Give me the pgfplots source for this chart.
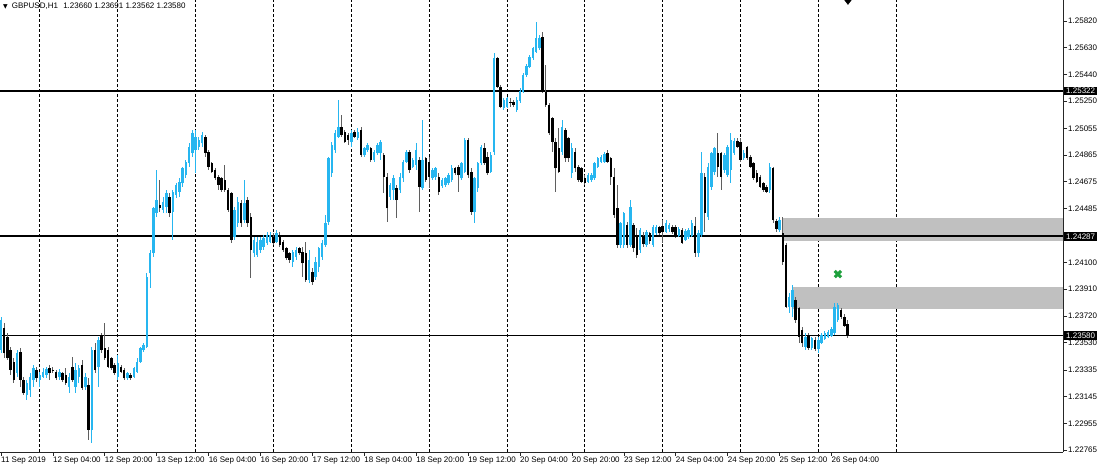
\documentclass[border=0pt]{standalone}
\usepackage{fontspec}
\setmainfont{Liberation Sans}
\newfontfamily\dejavu{DejaVu Sans}
\usepackage{pgfplots}
\usepackage{pgfplotstable}
\pgfplotsset{compat=1.18}

\definecolor{bullc}{RGB}{38,182,240}
\definecolor{bearw}{RGB}{95,95,95}
\definecolor{zonec}{RGB}{192,192,192}
\definecolor{greenmk}{RGB}{30,160,60}

% H1 candles, x = bar number (0 = 11 Sep 12:00)
\pgfplotstableread{
x o h l c
0 1.23478 1.23715 1.23454 1.23691
5 1.23312 1.23478 1.23288 1.23454
8 1.23157 1.23264 1.23122 1.23240
9 1.23193 1.23312 1.23145 1.23288
10 1.23264 1.23371 1.23217 1.23347
12 1.23264 1.23324 1.23217 1.23300
13 1.23288 1.23347 1.23276 1.23324
14 1.23300 1.23359 1.23276 1.23340
18 1.23288 1.23340 1.23264 1.23324
21 1.23217 1.23312 1.23169 1.23288
23 1.23217 1.23383 1.23169 1.23335
24 1.23288 1.23371 1.23240 1.23347
26 1.23217 1.23312 1.23193 1.23288
28 1.22908 1.23501 1.22813 1.23478
30 1.23359 1.23573 1.23217 1.23549
36 1.23288 1.23442 1.23264 1.23383
39 1.23276 1.23324 1.23264 1.23312
41 1.23288 1.23359 1.23276 1.23347
42 1.23324 1.23418 1.23312 1.23395
43 1.23395 1.23501 1.23383 1.23490
44 1.23478 1.23525 1.23466 1.23513
45 1.23501 1.24023 1.23490 1.24000
46 1.24023 1.24190 1.23917 1.24166
47 1.24166 1.24498 1.24142 1.24486
48 1.24451 1.24759 1.24427 1.24545
50 1.24474 1.24569 1.24451 1.24533
51 1.24498 1.24617 1.24451 1.24593
53 1.24462 1.24617 1.24261 1.24605
54 1.24581 1.24664 1.24557 1.24652
55 1.24605 1.24700 1.24569 1.24676
56 1.24664 1.24783 1.24640 1.24771
57 1.24723 1.24830 1.24700 1.24818
58 1.24807 1.24949 1.24783 1.24925
59 1.24878 1.25044 1.24854 1.25020
60 1.24901 1.25044 1.24735 1.24996
61 1.24925 1.24996 1.24901 1.24973
62 1.24949 1.25032 1.24925 1.25008
72 1.24284 1.24497 1.24260 1.24474
73 1.24379 1.24568 1.24355 1.24533
75 1.24402 1.24687 1.24379 1.24521
78 1.24165 1.24284 1.24141 1.24260
79 1.24153 1.24284 1.24141 1.24248
80 1.24189 1.24284 1.24165 1.24260
81 1.24212 1.24296 1.24189 1.24272
82 1.24236 1.24319 1.24224 1.24296
83 1.24248 1.24319 1.24236 1.24296
85 1.24248 1.24331 1.24236 1.24307
90 1.24106 1.24189 1.24070 1.24177
91 1.24141 1.24212 1.24118 1.24189
95 1.23975 1.24189 1.23951 1.24118
97 1.23999 1.24141 1.23975 1.24106
98 1.24070 1.24212 1.24035 1.24200
99 1.24141 1.24260 1.24118 1.24236
100 1.24224 1.24438 1.24212 1.24379
101 1.24391 1.24853 1.24367 1.24841
102 1.24735 1.24960 1.24711 1.24936
103 1.24901 1.25043 1.24877 1.25019
104 1.24996 1.25257 1.24984 1.25067
108 1.24960 1.25043 1.24924 1.25019
110 1.24984 1.25055 1.24972 1.25031
112 1.24865 1.24924 1.24853 1.24913
113 1.24901 1.24948 1.24889 1.24936
115 1.24829 1.24901 1.24817 1.24889
116 1.24877 1.24948 1.24865 1.24936
117 1.24877 1.24972 1.24829 1.24960
120 1.24568 1.24663 1.24545 1.24651
121 1.24616 1.24723 1.24545 1.24699
123 1.24616 1.24735 1.24592 1.24711
124 1.24699 1.24829 1.24675 1.24817
125 1.24817 1.24901 1.24806 1.24889
127 1.24782 1.24841 1.24770 1.24829
128 1.24794 1.24948 1.24758 1.24901
130 1.24628 1.25114 1.24616 1.24829
133 1.24699 1.24770 1.24687 1.24758
134 1.24711 1.24782 1.24687 1.24770
136 1.24648 1.24699 1.24628 1.24688
137 1.24652 1.24711 1.24640 1.24699
138 1.24664 1.24735 1.24652 1.24723
139 1.24688 1.24794 1.24676 1.24770
142 1.24699 1.24818 1.24688 1.24806
143 1.24747 1.24984 1.24735 1.24972
146 1.24462 1.24711 1.24379 1.24699
147 1.24628 1.24818 1.24604 1.24806
148 1.24806 1.24937 1.24794 1.24925
151 1.24747 1.24889 1.24735 1.24865
152 1.24889 1.25589 1.24865 1.25554
155 1.25198 1.25269 1.25186 1.25257
156 1.25209 1.25281 1.25198 1.25269
159 1.25186 1.25281 1.25174 1.25257
160 1.25250 1.25340 1.25233 1.25321
161 1.25316 1.25447 1.25304 1.25435
162 1.25435 1.25513 1.25423 1.25501
163 1.25494 1.25577 1.25482 1.25565
164 1.25558 1.25637 1.25542 1.25625
165 1.25601 1.25815 1.25589 1.25696
166 1.25625 1.25720 1.25613 1.25696
173 1.24889 1.25114 1.24865 1.25067
176 1.24735 1.24948 1.24699 1.24913
181 1.24676 1.24735 1.24664 1.24723
182 1.24688 1.24735 1.24676 1.24723
183 1.24699 1.24818 1.24688 1.24806
184 1.24783 1.24854 1.24770 1.24842
185 1.24818 1.24865 1.24806 1.24848
186 1.24818 1.24889 1.24806 1.24870
191 1.24225 1.24391 1.24201 1.24379
192 1.24225 1.24462 1.24201 1.24450
194 1.24225 1.24545 1.24213 1.24498
197 1.24189 1.24343 1.24165 1.24331
199 1.24225 1.24331 1.24213 1.24320
201 1.24225 1.24367 1.24213 1.24355
202 1.24308 1.24367 1.24296 1.24350
205 1.24320 1.24403 1.24308 1.24380
206 1.24337 1.24380 1.24320 1.24365
209 1.24290 1.24350 1.24280 1.24337
211 1.24261 1.24340 1.24250 1.24327
212 1.24280 1.24344 1.24270 1.24332
213 1.24290 1.24403 1.24280 1.24379
215 1.24166 1.24332 1.24142 1.24308
216 1.24297 1.24890 1.24285 1.24735
218 1.24427 1.24807 1.24403 1.24783
219 1.24640 1.24890 1.24617 1.24878
220 1.24747 1.24925 1.24723 1.24913
223 1.24759 1.24878 1.24735 1.24866
224 1.24723 1.24937 1.24712 1.24925
225 1.24759 1.25020 1.24664 1.24973
226 1.24878 1.24985 1.24866 1.24968
229 1.24842 1.24901 1.24830 1.24878
237 1.24617 1.24807 1.24593 1.24783
240 1.24332 1.24427 1.24320 1.24403
243 1.23786 1.23881 1.23739 1.23857
244 1.23786 1.23940 1.23715 1.23905
248 1.23501 1.23596 1.23478 1.23573
250 1.23490 1.23573 1.23478 1.23561
252 1.23484 1.23573 1.23454 1.23549
253 1.23530 1.23596 1.23520 1.23584
254 1.23555 1.23610 1.23545 1.23596
255 1.23573 1.23620 1.23560 1.23608
256 1.23578 1.23644 1.23570 1.23625
257 1.23596 1.23810 1.23584 1.23786
258 1.23691 1.23810 1.23680 1.23798
}\bulltable

\pgfplotstableread{
x o h l c
1 1.23632 1.23668 1.23418 1.23454
2 1.23573 1.23596 1.23406 1.23418
3 1.23478 1.23501 1.23300 1.23335
4 1.23395 1.23418 1.23240 1.23264
6 1.23466 1.23490 1.23217 1.23264
7 1.23264 1.23288 1.23157 1.23169
11 1.23335 1.23359 1.23252 1.23276
15 1.23347 1.23371 1.23264 1.23312
16 1.23335 1.23359 1.23312 1.23330
17 1.23324 1.23335 1.23264 1.23276
19 1.23312 1.23324 1.23252 1.23264
20 1.23300 1.23347 1.23229 1.23240
22 1.23359 1.23430 1.23252 1.23264
25 1.23371 1.23406 1.23193 1.23205
27 1.23229 1.23276 1.22837 1.22908
29 1.23478 1.23525 1.23312 1.23335
31 1.23585 1.23596 1.23454 1.23478
32 1.23490 1.23668 1.23406 1.23418
33 1.23478 1.23501 1.23347 1.23359
34 1.23418 1.23430 1.23335 1.23347
35 1.23371 1.23383 1.23300 1.23312
37 1.23359 1.23371 1.23312 1.23324
38 1.23335 1.23347 1.23264 1.23276
40 1.23300 1.23312 1.23264 1.23276
49 1.24510 1.24688 1.24462 1.24486
52 1.24569 1.24593 1.24427 1.24451
63 1.24996 1.25008 1.24854 1.24878
64 1.24890 1.24901 1.24759 1.24783
65 1.24807 1.24818 1.24735 1.24747
66 1.24759 1.24771 1.24688 1.24700
67 1.24712 1.24723 1.24617 1.24652
68 1.24699 1.24711 1.24604 1.24616
69 1.24687 1.24794 1.24604 1.24616
70 1.24616 1.24628 1.24462 1.24474
71 1.24592 1.24604 1.24236 1.24260
74 1.24521 1.24545 1.24355 1.24379
76 1.24545 1.24568 1.24355 1.24379
77 1.24426 1.24450 1.23987 1.24189
84 1.24284 1.24307 1.24224 1.24236
86 1.24296 1.24319 1.24212 1.24224
87 1.24248 1.24260 1.24177 1.24189
88 1.24200 1.24212 1.24118 1.24129
89 1.24165 1.24177 1.24094 1.24118
92 1.24200 1.24212 1.24153 1.24165
93 1.24177 1.24212 1.23999 1.24094
94 1.24165 1.24248 1.23963 1.23975
96 1.24035 1.24058 1.23939 1.23963
105 1.25067 1.25150 1.24996 1.25008
106 1.25031 1.25043 1.24948 1.24960
107 1.25008 1.25019 1.24936 1.24972
109 1.25031 1.25043 1.24984 1.24996
111 1.25043 1.25067 1.24853 1.24865
114 1.24913 1.24924 1.24817 1.24829
118 1.24865 1.24877 1.24592 1.24711
119 1.24711 1.24735 1.24390 1.24485
122 1.24628 1.24651 1.24414 1.24545
126 1.24889 1.24901 1.24735 1.24758
129 1.24829 1.24853 1.24462 1.24640
131 1.24841 1.24853 1.24675 1.24687
132 1.24817 1.24853 1.24628 1.24711
135 1.24711 1.24735 1.24580 1.24604
140 1.24770 1.24782 1.24723 1.24735
141 1.24782 1.24794 1.24604 1.24723
144 1.24972 1.24984 1.24699 1.24723
145 1.24747 1.24770 1.24438 1.24462
149 1.24913 1.24948 1.24794 1.24806
150 1.24854 1.24889 1.24723 1.24735
153 1.25554 1.25565 1.25340 1.25352
154 1.25352 1.25364 1.25198 1.25209
157 1.25245 1.25269 1.25209 1.25233
158 1.25245 1.25257 1.25209 1.25221
167 1.25708 1.25744 1.25304 1.25316
168 1.25311 1.25506 1.25209 1.25221
169 1.25221 1.25233 1.25008 1.25019
170 1.25126 1.25138 1.24889 1.24960
171 1.24960 1.24984 1.24604 1.24770
172 1.24913 1.25055 1.24735 1.24747
174 1.25043 1.25055 1.24818 1.24842
175 1.24984 1.24996 1.24818 1.24842
177 1.24889 1.24913 1.24747 1.24770
178 1.24782 1.24794 1.24676 1.24688
179 1.24770 1.24782 1.24664 1.24676
180 1.24699 1.24723 1.24652 1.24664
187 1.24877 1.24901 1.24806 1.24818
188 1.24842 1.24854 1.24652 1.24711
189 1.24711 1.24770 1.24415 1.24438
190 1.24486 1.24652 1.24201 1.24225
193 1.24367 1.24391 1.24201 1.24225
195 1.24367 1.24379 1.24177 1.24201
196 1.24296 1.24343 1.24130 1.24153
198 1.24291 1.24320 1.24213 1.24230
200 1.24308 1.24320 1.24230 1.24255
203 1.24350 1.24362 1.24296 1.24308
204 1.24360 1.24403 1.24237 1.24320
207 1.24356 1.24368 1.24300 1.24315
208 1.24356 1.24368 1.24273 1.24285
210 1.24332 1.24344 1.24230 1.24240
214 1.24360 1.24427 1.24142 1.24166
217 1.24712 1.24735 1.24320 1.24451
221 1.24878 1.25020 1.24712 1.24783
222 1.24878 1.24890 1.24617 1.24712
227 1.24968 1.24985 1.24913 1.24925
228 1.24961 1.24985 1.24818 1.24830
230 1.24920 1.24930 1.24830 1.24842
231 1.24854 1.24866 1.24771 1.24783
232 1.24807 1.24818 1.24688 1.24700
233 1.24740 1.24759 1.24664 1.24676
234 1.24712 1.24723 1.24628 1.24640
235 1.24664 1.24676 1.24605 1.24617
236 1.24640 1.24652 1.24593 1.24605
238 1.24771 1.24783 1.24379 1.24403
239 1.24398 1.24410 1.24320 1.24337
241 1.24308 1.24427 1.24083 1.24107
242 1.24225 1.24237 1.23774 1.23786
245 1.23834 1.23857 1.23668 1.23691
246 1.23774 1.23786 1.23525 1.23573
247 1.23620 1.23644 1.23501 1.23525
249 1.23584 1.23596 1.23478 1.23490
251 1.23549 1.23573 1.23472 1.23484
259 1.23762 1.23774 1.23700 1.23715
260 1.23715 1.23730 1.23640 1.23650
261 1.23660 1.23691 1.23562 1.23580
}\beartable

\begin{document}
\begin{tikzpicture}[font=\fontsize{8}{9}\selectfont]
\path[use as bounding box] (0,0) rectangle (1100pt,468pt);
\begin{axis}[
    at={(0pt,16pt)}, anchor=south west,
    scale only axis, width=1063pt, height=452pt,
    xmin=-0.3, xmax=327.4, ymin=1.22751, ymax=1.25969,
    axis x line*=bottom, axis y line*=right,
    axis line style={-, line width=0.8pt, black!85},
    tick align=outside, major tick length=4pt,
    tick style={black!85, line width=0.6pt},
    xtick={0,16,...,256},
    xticklabels={11 Sep 2019,12 Sep 04:00,12 Sep 20:00,13 Sep 12:00,16 Sep 04:00,16 Sep 20:00,17 Sep 12:00,18 Sep 04:00,18 Sep 20:00,19 Sep 12:00,20 Sep 04:00,20 Sep 20:00,23 Sep 12:00,24 Sep 04:00,24 Sep 20:00,25 Sep 12:00,26 Sep 04:00},
    xticklabel style={anchor=north west, inner sep=1pt, xshift=-1pt},
    ytick={1.25820,1.25630,1.25440,1.25250,1.25055,1.24865,1.24675,1.24485,1.24100,1.23910,1.23720,1.23530,1.23335,1.23145,1.22955,1.22765},
    yticklabels={1.25820,1.25630,1.25440,1.25250,1.25055,1.24865,1.24675,1.24485,1.24100,1.23910,1.23720,1.23530,1.23335,1.23145,1.22955,1.22765},
    yticklabel style={anchor=west, inner sep=1pt},
    extra x ticks={12,36,...,276},
    extra x tick labels={},
    extra x tick style={grid=major, major tick length=0pt,
        major grid style={black, line width=0.8pt, dash pattern=on 3pt off 2pt}},
    clip marker paths=true,
    candle/.style={draw=none, mark=none, forget plot,
        error bars/.cd, y dir=both, y explicit, error mark=none},
]
% zones
\addplot[draw=none, fill=zonec, forget plot] coordinates {(241.0,1.24255) (327.4,1.24255) (327.4,1.24415) (241.0,1.24415)};
\addplot[draw=none, fill=zonec, forget plot] coordinates {(243.7,1.23769) (327.4,1.23769) (327.4,1.23928) (243.7,1.23928)};
% horizontal levels
\addplot[black, line width=2pt, forget plot] coordinates {(-0.3,1.25322) (327.4,1.25322)};
\addplot[black, line width=2pt, forget plot] coordinates {(-0.3,1.24287) (327.4,1.24287)};
\addplot[black, line width=1pt, forget plot] coordinates {(-0.3,1.23580) (327.4,1.23580)};
% bull candles: wicks, then bodies
\addplot[candle, error bar style={draw=bullc, line width=0.9pt}]
    table[x=x, y=o, y error plus expr=\thisrow{h}-\thisrow{o}, y error minus expr=\thisrow{o}-\thisrow{l}] {\bulltable};
\addplot[candle, error bar style={draw=bullc, line width=2.5pt}]
    table[x=x, y=o, y error plus expr=\thisrow{c}-\thisrow{o}, y error minus expr=0] {\bulltable};
% bear candles: wicks, then bodies
\addplot[candle, error bar style={draw=bearw, line width=0.9pt}]
    table[x=x, y=c, y error plus expr=\thisrow{h}-\thisrow{c}, y error minus expr=\thisrow{c}-\thisrow{l}] {\beartable};
\addplot[candle, error bar style={draw=black, line width=2.5pt}]
    table[x=x, y=c, y error plus expr=\thisrow{o}-\thisrow{c}, y error minus expr=0] {\beartable};
% arrows
\addplot[only marks, mark=x, mark size=4.5pt, greenmk, line width=3pt, forget plot] coordinates {(258.0,1.24018)};
\addplot[only marks, mark=diamond*, mark size=4.5pt, black, forget plot] coordinates {(261.1,1.25969)};

\coordinate (p1) at (axis cs:327.4,1.25322);
\coordinate (p2) at (axis cs:327.4,1.24287);
\coordinate (p3) at (axis cs:327.4,1.23580);
\node[anchor=west, inner sep=0pt] at ([xshift=3pt,yshift=-6pt]rel axis cs:0,1)
    {{\dejavu\fontsize{6}{6}\selectfont ▼}\hspace{4pt}GBPUSD,H1\hspace{3pt} 1.23660 1.23691 1.23562 1.23580};
\end{axis}
\foreach \p/\t in {p1/1.25322, p2/1.24287, p3/1.23580}
    \node[fill=black, text=white, anchor=west, inner xsep=2pt, inner ysep=1.5pt] at ([xshift=1pt]\p) {\t};
\end{tikzpicture}
\end{document}
